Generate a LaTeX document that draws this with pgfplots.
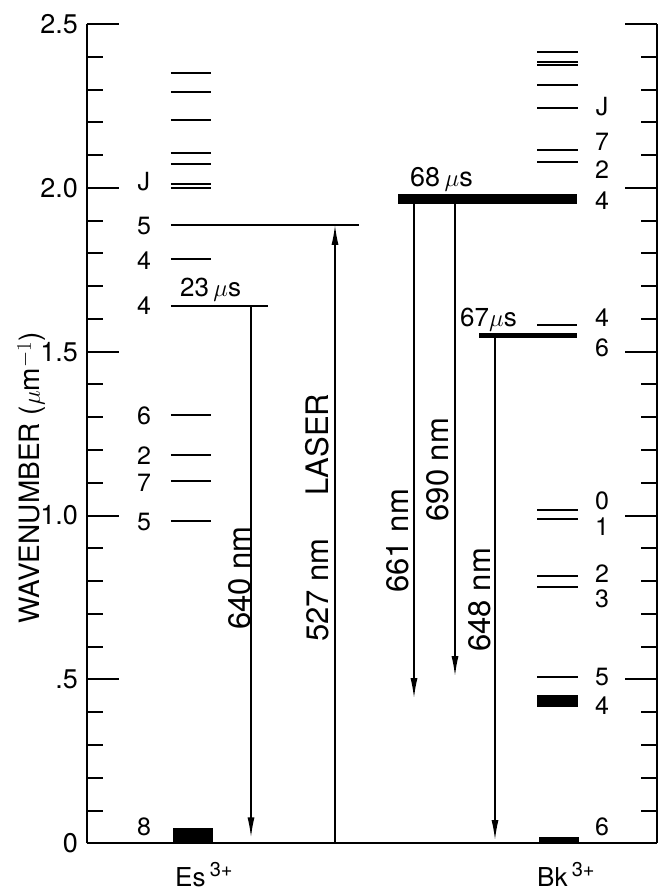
\documentclass[border=0pt]{standalone}
\usepackage{fontspec}
\setmainfont{TeX Gyre Heros}
\usepackage{pgfplots}
\pgfplotsset{compat=1.18}
\usetikzlibrary{arrows.meta}
\newcommand\lev[3]{\addplot[black, line width=2pt, forget plot] coordinates {(#1,#3) (#2,#3)};}
\newcommand\blk[4]{\addplot[fill=black, draw=none, forget plot] coordinates {(#1,#3) (#2,#3) (#2,#4) (#1,#4)} -- cycle;}
\newcommand\arr[3]{\addplot[black, line width=1.4pt, -{Latex[length=20pt,width=7pt]}, forget plot] coordinates {(#1,#2) (#1,#3)};}
\newcommand\lfont{\fontsize{25}{27}\selectfont}
\newcommand\afont{\fontsize{31}{34}\selectfont}
\newcommand\ionsup[1]{\raisebox{10pt}{\fontsize{20}{22}\selectfont #1}}
\begin{document}
\begin{tikzpicture}
\path[use as bounding box] (-87pt,-48.7pt) rectangle (572pt,843.3pt);
\begin{axis}[
  scale only axis, width=570pt, height=819.3pt,
  xmin=87, xmax=657, ymin=0, ymax=2.5,
  axis x line=bottom, axis y line=box,
  x axis line style={-, line width=2.2pt},
  y axis line style={-, line width=2.2pt},
  xtick=\empty,
  ytick={0,0.5,1,1.5,2,2.5},
  yticklabels={0,.5,1.0,1.5,2.0,2.5},
  minor y tick num=4,
  tick align=inside,
  major tick length=32pt, minor tick length=16pt,
  every tick/.style={black, line width=2pt},
  yticklabel pos=left,
  /pgf/number format/assume math mode=true,
  yticklabel style={font=\fontsize{27}{30}\selectfont, inner sep=0pt, xshift=-9pt},
  clip=false,
]
% Es3+ levels
\lev{171}{211}{2.351}
\lev{171}{211}{2.291}
\lev{171}{211}{2.207}
\lev{171}{211}{2.107}
\lev{171}{211}{2.073}
\lev{171}{211}{2.011}
\lev{171}{211}{1.999}
\lev{171}{359}{1.887}
\lev{171}{211}{1.783}
\lev{171}{268}{1.638}
\lev{171}{211}{1.307}
\lev{171}{211}{1.186}
\lev{171}{211}{1.105}
\lev{171}{211}{0.983}
\blk{173}{213}{0}{0.047}
% Bk3+ levels
\lev{537}{578}{2.416}
\lev{537}{578}{2.385}
\lev{537}{578}{2.375}
\lev{537}{578}{2.315}
\lev{537}{578}{2.245}
\lev{537}{578}{2.117}
\lev{537}{578}{2.080}
\blk{398}{577}{1.950}{1.982}
\lev{537}{577}{1.580}
\blk{479}{577}{1.541}{1.558}
\lev{537}{578}{1.016}
\lev{537}{578}{0.989}
\lev{537}{578}{0.815}
\lev{537}{578}{0.782}
\lev{537}{578}{0.506}
\blk{537}{578}{0.416}{0.453}
\blk{539}{579}{0}{0.020}
% transitions
\arr{251}{1.638}{0.018}
\arr{335}{0}{1.887}
\arr{414}{1.950}{0.443}
\arr{455}{1.950}{0.510}
\arr{495}{1.541}{0.010}
% Es labels
\foreach \t/\y in {J/2.02, 5/1.883, 4/1.778, 4/1.640, 6/1.305, 2/1.182, 7/1.100, 5/0.981, 8/0.050}{
  \edef\tmp{\noexpand\node[inner sep=0pt, font=\noexpand\lfont] at (axis cs:144,\y) {\t};}\tmp
}
% Bk labels
\foreach \t/\y in {J/2.247, 7/2.140, 2/2.055, 4/1.960, 4/1.603, 6/1.512, 0/1.045, 1/0.966, 2/0.822, 3/0.745, 5/0.508, 4/0.420, 6/0.050}{
  \edef\tmp{\noexpand\node[inner sep=0pt, font=\noexpand\lfont] at (axis cs:602,\y) {\t};}\tmp
}
% lifetimes
\node[anchor=base west, inner sep=0pt, font=\fontsize{26}{28}\selectfont] at (axis cs:180,1.668) {23\,$\mu$s};
\node[anchor=base west, inner sep=0pt, font=\fontsize{27}{28}\selectfont] at (axis cs:410,2.003) {68\,$\mu$s};
\node[anchor=base west, inner sep=0pt, font=\fontsize{26}{28}\selectfont] at (axis cs:460,1.576) {67$\mu$s};
% arrow labels
\node[rotate=90, anchor=base, inner sep=0pt, font=\afont] at (axis cs:250,0.81) {640 nm};
\node[rotate=90, anchor=base, inner sep=0pt, font=\afont] at (axis cs:328,0.773) {527 nm};
\node[rotate=90, anchor=base, inner sep=0pt, font=\afont] at (axis cs:328,1.216) {LASER};
\node[rotate=90, anchor=base, inner sep=0pt, font=\afont] at (axis cs:408,0.923) {661 nm};
\node[rotate=90, anchor=base, inner sep=0pt, font=\afont] at (axis cs:448,1.14) {690 nm};
\node[rotate=90, anchor=base, inner sep=0pt, font=\afont] at (axis cs:490,0.743) {648 nm};
% species
\node[anchor=base west, inner sep=0pt, font=\fontsize{26}{28}\selectfont] at (axis cs:175,-0.133) {Es\,\ionsup{3+}};
\node[anchor=base west, inner sep=0pt, font=\fontsize{26}{28}\selectfont] at (axis cs:537,-0.133) {Bk\,\ionsup{3+}};
% y label
\node[rotate=90, anchor=base, inner sep=0pt, font=\fontsize{28}{30}\selectfont] at (axis cs:40,1.115) {WAVENUMBER ($\mu$m$^{-1}$)};
\end{axis}
\end{tikzpicture}
\end{document}
